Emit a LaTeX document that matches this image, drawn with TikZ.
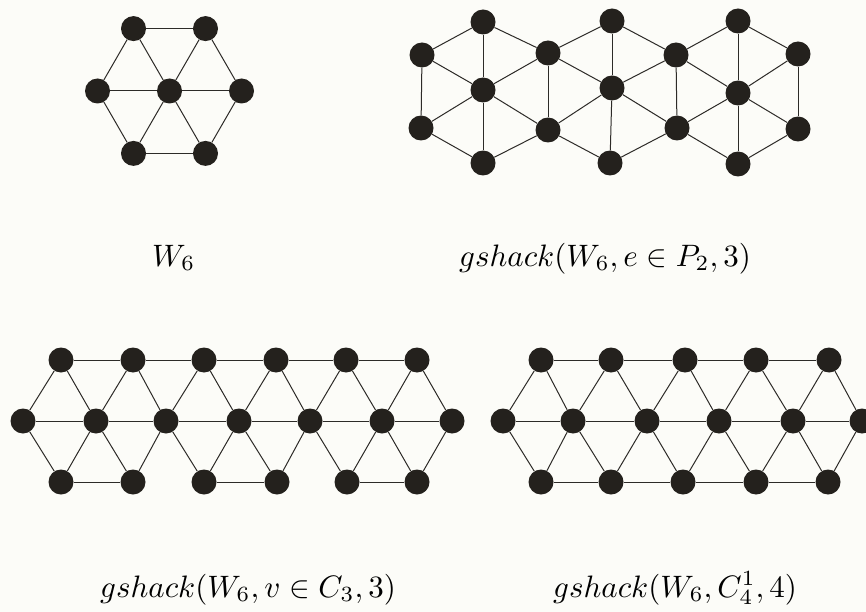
\documentclass[tikz,border=0pt]{standalone}
\usepackage{graphicx}
\definecolor{nodecol}{RGB}{36,33,29}
\definecolor{edgecol}{RGB}{45,43,40}
\definecolor{bgcol}{RGB}{252,252,248}
\tikzset{
  vtx/.style={circle,fill=nodecol,inner sep=0pt,minimum size=25pt},
  edg/.style={draw=edgecol,line width=1pt},
  lbl/.style={anchor=base west,inner sep=0pt}
}
\newcommand{\biglbl}[1]{\scalebox{3.1}{$#1$}}
\begin{document}
\begin{tikzpicture}[x=1pt,y=-1pt]
\fill[bgcol] (0,0) rectangle (866,612);
\useasboundingbox (0,0) rectangle (866,612);

% ---- Graph A: W6
\foreach \n/\x/\y in {ac/169.5/91, a1/241.5/91, a2/205.5/28.6, a3/133.5/28.6, a4/97.5/91, a5/133.5/153.4, a6/205.5/153.4}
  \node[vtx] (\n) at (\x,\y) {};
\foreach \u/\v in {a1/a2,a2/a3,a3/a4,a4/a5,a5/a6,a6/a1,ac/a1,ac/a2,ac/a3,ac/a4,ac/a5,ac/a6}
  \draw[edg] (\u) -- (\v);

% ---- Graph B: gshack(W6, e in P2, 3)
\foreach \n/\x/\y in {b1t/483/22, b1u/422/55, b1c/483/90, b1l/421/128, b1b/483/163, b1ur/548/53, b1lr/548/130,
  b2t/612/21, b2c/612/88, b2b/610/163, b2ur/676/55, b2lr/677/128,
  b3t/738/21, b3c/738/93, b3b/738/164, b3ur/798/54, b3lr/798/129}
  \node[vtx] (\n) at (\x,\y) {};
\foreach \u/\v in {b1t/b1ur, b1ur/b1lr, b1lr/b1b, b1b/b1l, b1l/b1u, b1u/b1t,
  b1c/b1t, b1c/b1b, b1c/b1u, b1c/b1l, b1c/b1ur, b1c/b1lr,
  b2t/b2ur, b2ur/b2lr, b2lr/b2b, b2b/b1lr, b1ur/b2t,
  b2c/b2t, b2c/b2b, b2c/b1ur, b2c/b1lr, b2c/b2ur, b2c/b2lr,
  b3t/b3ur, b3ur/b3lr, b3lr/b3b, b3b/b2lr, b2ur/b3t,
  b3c/b3t, b3c/b3b, b3c/b2ur, b3c/b2lr, b3c/b3ur, b3c/b3lr}
  \draw[edg] (\u) -- (\v);

% ---- Graph C: gshack(W6, v in C3, 3)
\foreach \x [count=\i] in {61,133,204,276,346,417}
  \node[vtx] (ct\i) at (\x,360) {};
\foreach \x [count=\i] in {23,96,166,239,310,382,452}
  \node[vtx] (cm\i) at (\x,421) {};
\foreach \x [count=\i] in {61,133,204,277,347,417}
  \node[vtx] (cb\i) at (\x,482) {};
\foreach \i in {1,...,6}{
  \pgfmathtruncatemacro\j{\i+1}
  \draw[edg] (ct\i) -- (cm\i);
  \draw[edg] (ct\i) -- (cm\j);
  \draw[edg] (cb\i) -- (cm\i);
  \draw[edg] (cb\i) -- (cm\j);
  \draw[edg] (cm\i) -- (cm\j);
}
\foreach \i/\j in {1/2,2/3,3/4,4/5,5/6}
  \draw[edg] (ct\i) -- (ct\j);
\foreach \i/\j in {1/2,3/4,5/6}
  \draw[edg] (cb\i) -- (cb\j);

% ---- Graph D: gshack(W6, C4^1, 4)
\foreach \x [count=\i] in {541,611,685,756,829}
  \node[vtx] (dt\i) at (\x,360) {};
\foreach \x [count=\i] in {503,573,647,719,793,862}
  \node[vtx] (dm\i) at (\x,421) {};
\foreach \x [count=\i] in {541,611,683,756,828}
  \node[vtx] (db\i) at (\x,482) {};
\foreach \i in {1,...,5}{
  \pgfmathtruncatemacro\j{\i+1}
  \draw[edg] (dt\i) -- (dm\i);
  \draw[edg] (dt\i) -- (dm\j);
  \draw[edg] (db\i) -- (dm\i);
  \draw[edg] (db\i) -- (dm\j);
  \draw[edg] (dm\i) -- (dm\j);
}
\foreach \i/\j in {1/2,2/3,3/4,4/5}{
  \draw[edg] (dt\i) -- (dt\j);
  \draw[edg] (db\i) -- (db\j);
}

% ---- Labels
\node[lbl] (la) at (152,266) {\biglbl{W_6}};
\node[lbl] (lb) at (459,266) {\biglbl{gshack(W_6,e\in P_2,3)}};
\node[lbl] (lc) at (100,597) {\biglbl{gshack(W_6,v\in C_3,3)}};
\node[lbl] (ld) at (553,597) {\biglbl{gshack(W_6,C_4^1,4)}};
\end{tikzpicture}
\end{document}
